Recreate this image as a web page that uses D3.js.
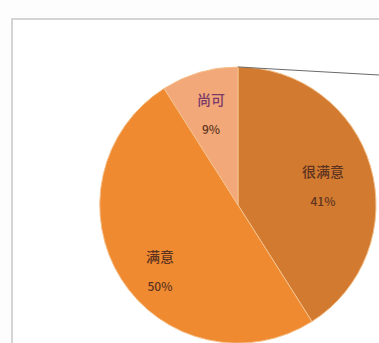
<!DOCTYPE html>
<html><head><meta charset="utf-8">
<script src="https://cdn.jsdelivr.net/npm/d3@7"></script>
<style>html,body{margin:0;padding:0;background:#fff;overflow:hidden}</style>
</head><body>
<svg id="c" width="379" height="343"></svg>
<script>
const categories = ["很满意", "满意", "尚可"];
const values = [41, 50, 9];
const labels = ["41%", "50%", "9%"];
const colors = ["#d27b30", "#ef8a31", "#f2a878"];

const svg = d3.select("#c");
svg.append("rect").attr("x", 0).attr("y", 0).attr("width", 379).attr("height", 343).attr("fill", "#fdfdfd");
svg.append("rect").attr("x", 12).attr("y", 19).attr("width", 400).attr("height", 400)
  .attr("fill", "#fff").attr("stroke", "#d4d4d4").attr("stroke-width", 2);

const cx = 238, cy = 205, r = 138;
const pie = d3.pie().sort(null).value(d => d)(values);
const arc = d3.arc().innerRadius(0).outerRadius(r);
const g = svg.append("g").attr("transform", `translate(${cx},${cy})`);
g.selectAll("path").data(pie).join("path")
  .attr("d", arc).attr("fill", (d, i) => colors[i])
  .attr("stroke", "#f4c08a").attr("stroke-width", 1);

svg.append("line").attr("x1", cx).attr("y1", cy - r).attr("x2", 379).attr("y2", cy - r + 8)
  .attr("stroke", "#6a6a6a").attr("stroke-width", 1);

const labelPos = [[323, 177], [160, 262], [211, 105]];
const textColors = ["#5e3420", "#5e3420", "#7a3a6a"];
labelPos.forEach((p, i) => {
  const t = g.append("text").attr("text-anchor", "middle")
    .attr("font-family", "Noto Sans CJK SC, sans-serif").attr("font-size", 14)
    .attr("font-weight", 500).attr("fill", textColors[i]);
  t.append("tspan").attr("x", p[0] - cx).attr("y", p[1] - cy).text(categories[i]);
  t.append("tspan").attr("x", p[0] - cx).attr("y", p[1] - cy + 29).attr("font-size", 12)
    .attr("fill", "#5e3420").text(labels[i]);
});
</script>
</body></html>
